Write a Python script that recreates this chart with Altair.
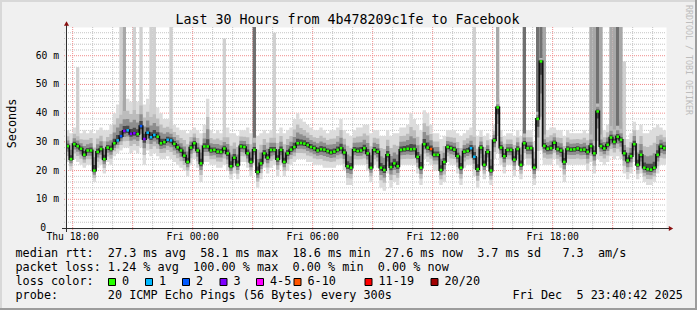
import altair as alt
import pandas as pd

# ---------------- data ----------------
START = "2025-12-04 17:40"   # first sample, 10-minute steps, 30 hours

median = [
    28.5, 24.0, 29.2, 28.5, 27.6, 25.5, 27.0, 27.0, 20.0, 26.5,
    27.5, 24.0, 28.0, 27.5, 29.5, 30.5, 32.0, 33.8, 34.0, 32.8,
    33.0, 32.7, 35.5, 31.0, 33.2, 31.6, 32.4, 31.8, 29.5, 29.9,
    30.7, 30.5, 29.3, 28.1, 27.0, 25.2, 23.0, 28.0, 29.5, 27.0,
    22.5, 28.4, 28.4, 27.0, 27.2, 26.6, 26.5, 27.7, 26.0, 21.5,
    24.5, 22.0, 28.4, 28.2, 26.0, 23.0, 27.2, 19.5, 22.5, 26.0,
    24.5, 27.2, 27.2, 24.0, 27.2, 23.0, 26.0, 27.3, 28.2, 29.5,
    29.6, 29.4, 28.9, 28.2, 27.8, 27.0, 27.4, 27.3, 26.8, 26.3,
    26.6, 27.2, 27.8, 26.3, 21.5, 21.0, 27.2, 26.8, 27.0, 27.8,
    26.0, 21.0, 27.2, 26.6, 21.0, 20.2, 25.5, 21.2, 22.5, 21.5,
    27.2, 27.4, 27.6, 27.4, 27.5, 24.8, 21.0, 29.2, 28.0, 27.5,
    25.5, 25.5, 20.2, 23.0, 28.2, 27.8, 27.3, 25.0, 21.0, 26.6,
    26.8, 27.8, 24.8, 20.5, 28.0, 22.0, 26.5, 20.0, 30.5, 42.0,
    28.0, 25.0, 27.2, 27.2, 23.8, 27.5, 22.0, 29.5, 27.8, 27.8,
    21.0, 38.0, 58.0, 28.6, 27.6, 27.8, 29.7, 27.5, 27.0, 23.0,
    27.5, 27.3, 27.4, 27.7, 27.2, 27.3, 26.5, 28.5, 26.0, 40.6,
    28.5, 27.7, 29.0, 31.5, 30.0, 31.8, 30.7, 26.0, 23.5, 25.0,
    29.2, 22.0, 25.5, 21.0, 20.5, 20.3, 21.0, 25.5, 28.4, 27.8,
]

smoke_hi = [
    34, 33, 35, 34, 33, 34, 33, 34, 33, 34,
    35, 34, 34, 36, 40, 43, 44, 45, 45, 44,
    46, 44, 47, 43, 45, 43, 44, 42, 40, 38,
    38, 37, 36, 35, 34, 34, 33, 34, 35, 34,
    33, 36, 45, 34, 33, 34, 33, 34, 35, 33,
    33, 32, 34, 34, 35, 33, 34, 32, 33, 34,
    33, 34, 34, 33, 35, 33, 34, 35, 38, 40,
    38, 37, 36, 35, 34, 34, 35, 34, 33, 34,
    34, 35, 38, 34, 33, 32, 34, 35, 35, 36,
    36, 33, 34, 34, 32, 32, 34, 32, 33, 33,
    35, 35, 36, 40, 38, 36, 34, 41, 40, 36,
    33, 33, 31, 32, 34, 34, 34, 33, 32, 33,
    34, 35, 36, 32, 34, 32, 33, 31, 36, 45,
    34, 32, 33, 33, 32, 34, 32, 35, 34, 34,
    30, 42, 60, 35, 34, 35, 35, 34, 34, 32,
    34, 33, 33, 33, 33, 34, 33, 35, 33, 45,
    35, 34, 36, 38, 37, 38, 37, 34, 31, 33,
    37, 34, 36, 33, 33, 34, 35, 36, 35, 34,
]

smoke_lo = [
    23, 20, 24, 23, 22, 21, 22, 22, 16, 21,
    22, 19, 23, 22, 25, 26, 27, 28, 28, 26,
    27, 26, 28, 22, 27, 25, 26, 25, 24, 24,
    25, 24, 23, 22, 21, 20, 18, 22, 24, 21,
    16, 23, 23, 22, 22, 21, 21, 22, 20, 17,
    19, 17, 23, 23, 21, 18, 22, 14, 17, 21,
    19, 21, 22, 18, 22, 18, 20, 22, 23, 24,
    24, 24, 23, 23, 22, 22, 22, 21, 21, 21,
    21, 22, 22, 20, 15, 15, 22, 22, 22, 22,
    20, 16, 22, 21, 14, 13, 19, 14, 16, 15,
    22, 22, 22, 22, 22, 19, 15, 24, 23, 22,
    20, 20, 15, 16, 23, 22, 22, 19, 15, 21,
    22, 22, 18, 14, 22, 17, 21, 15, 24, 26,
    22, 19, 22, 22, 18, 22, 17, 24, 22, 22,
    15, 20, 27, 22, 22, 22, 24, 22, 21, 16,
    22, 22, 22, 22, 22, 22, 20, 23, 19, 24,
    23, 22, 23, 25, 24, 25, 24, 19, 17, 19,
    23, 17, 19, 16, 15, 15, 16, 19, 22, 22,
]

# samples with packet loss (index, lost pings out of 20)
loss_at = [15, 16, 17, 18, 19, 20, 22, 23, 24, 25, 26, 30, 31, 109, 121, 122]
loss_cnt = [1, 2, 3, 1, 3, 3, 2, 3, 1, 1, 1, 1, 1, 7, 1, 1]

# tall smoke spikes: sample index, top value (ms), density level
spike_at = [3, 16, 17, 20, 22, 25, 26, 31, 47, 56, 62, 122, 129, 137,
            141, 142, 143, 157, 158, 159, 160, 163, 164, 165, 166, 167]
spike_top = [56, 70, 70, 70, 70, 70, 70, 70, 66, 70, 68, 70, 70, 70,
             70, 70, 70, 70, 70, 70, 70, 70, 70, 70, 70, 58]
spike_lvl = [1, 1, 2, 1, 1, 1, 1, 1, 1, 3, 1, 1, 2, 3,
             3, 3, 2, 2, 2, 3, 2, 2, 2, 3, 2, 1]

loss_labels = ["0", "1", "2", "3", "4-5", "6-10", "11-19", "20/20"]
loss_colors = ["#26ff00", "#00b8ff", "#0059ff", "#7e00ff",
               "#ff00ff", "#ff5500", "#ff0000", "#a10000"]

y_ticks = [0, 10, 20, 30, 40, 50, 60]
x_ticks = ["2025-12-04 18:00", "2025-12-05 00:00", "2025-12-05 06:00",
           "2025-12-05 12:00", "2025-12-05 18:00"]

# ---------------- tables ----------------
N = len(median)
times = pd.date_range(START, periods=N + 1, freq="10min")

def loss_cat(n):
    if n <= 3:
        return loss_labels[n]
    if n <= 5:
        return "4-5"
    if n <= 10:
        return "6-10"
    if n <= 19:
        return "11-19"
    return "20/20"

lossmap = dict(zip(loss_at, loss_cnt))
df = pd.DataFrame({
    "t": times[:-1],
    "tm": times[:-1] + pd.Timedelta(minutes=5),
    "med": median,
    "lo": smoke_lo,
    "hi": smoke_hi,
})
df["cat"] = [loss_cat(lossmap.get(i, 0)) for i in range(N)]
last = df.iloc[[-1]].copy()
last["t"] = times[-1]
dfs = pd.concat([df, last], ignore_index=True)

shades = [(1.0, "#dcdcdc"), (0.62, "#bcbcbc"), (0.36, "#8e8e8e"), (0.15, "#4a4a4a")]
for k, (f, _) in enumerate(shades):
    dfs[f"l{k}"] = dfs["med"] - (dfs["med"] - dfs["lo"]) * f
    dfs[f"h{k}"] = dfs["med"] + (dfs["hi"] - dfs["med"]) * f

sp = pd.DataFrame({
    "t": [times[i] for i in spike_at],
    "t2": [times[i + 1] for i in spike_at],
    "base": [median[i] for i in spike_at],
    "top": spike_top,
    "lvl": spike_lvl,
})

hours = pd.date_range("2025-12-04 18:00", "2025-12-05 23:00", freq="h")
vminor = pd.DataFrame({"t": [h for h in hours if h.hour % 3 != 0]})
vmajor = pd.DataFrame({"t": [h for h in hours if h.hour % 3 == 0]})
hminor = pd.DataFrame({"v": [v for v in range(2, 70, 2) if v % 10 != 0]})
hmajor = pd.DataFrame({"v": [v for v in range(10, 70, 10)]})

NB = "\u00a0"
xlab = pd.DataFrame({"t": pd.to_datetime(x_ticks)})
xlab["lab"] = [d.strftime("%a %H:%M").replace(" ", NB) for d in xlab["t"]]
ylab = pd.DataFrame({"v": [v for v in y_ticks if v > 0]})
ylab["lab"] = [f"{v}{NB}m" for v in ylab["v"]]
yzero = pd.DataFrame({"v": [0], "lab": ["0"]})

# ---------------- layout ----------------
OX, OY = 66, 27          # plot origin in the 697x310 picture
W, H = 600, 201
FONT = "DejaVu Sans Mono"

xscale = alt.Scale(domain=[alt.DateTime(year=2025, month=12, date=4, hours=17, minutes=40),
                           alt.DateTime(year=2025, month=12, date=5, hours=23, minutes=40)])
yscale = alt.Scale(domain=[0, 70], nice=False, clamp=True)

XT = lambda f: alt.X(f, type="temporal", scale=xscale, axis=None)
YQ = lambda f: alt.Y(f, type="quantitative", scale=yscale, axis=None)

def X(px):
    return alt.value(px - OX)

def Y(py):
    return alt.value(py - OY)

def text(s, x, y, size=11.8, align="left", angle=0, color="#000", baseline="alphabetic"):
    return alt.Chart(alt.Data(values=[{}])).mark_text(
        text=s.replace(" ", NB), font=FONT, fontSize=size, align=align,
        angle=angle, color=color, baseline=baseline,
    ).encode(x=X(x), y=Y(y))

def box(x0, y0, x1, y1, color, stroke=None):
    kw = {"color": color}
    if stroke:
        kw.update(stroke=stroke, strokeWidth=1)
    return alt.Chart(alt.Data(values=[{}])).mark_rect(**kw).encode(
        x=X(x0), x2=X(x1), y=Y(y0), y2=Y(y1))

MINOR, MAJOR = "#c4c4c4", "#f08c8c"
grid = [
    alt.Chart(vminor).mark_rule(color=MINOR, strokeWidth=1, strokeDash=[1, 1]).encode(
        x=XT("t"), y=alt.value(0), y2=alt.value(H + 2)),
    alt.Chart(hminor).mark_rule(color=MINOR, strokeWidth=1, strokeDash=[1, 1]).encode(
        y=YQ("v"), x=alt.value(-2), x2=alt.value(W)),
    alt.Chart(vmajor).mark_rule(color=MAJOR, strokeWidth=1, strokeDash=[1, 1]).encode(
        x=XT("t"), y=alt.value(0), y2=alt.value(H + 2)),
    alt.Chart(hmajor).mark_rule(color=MAJOR, strokeWidth=1, strokeDash=[1, 1]).encode(
        y=YQ("v"), x=alt.value(-2), x2=alt.value(W)),
]

base = alt.Chart(dfs)

def band(k):
    return base.mark_area(interpolate="step-after", color=shades[k][1], clip=True).encode(
        x=XT("t"), y=YQ(f"l{k}"), y2=f"h{k}:Q")

spike_cols = {1: "#d0d0d0", 2: "#a8a8a8", 3: "#707070"}
spikes = [
    alt.Chart(sp).transform_filter(f"datum.lvl == {lv}").mark_rect(color=c, clip=True).encode(
        x=XT("t"), x2="t2:T", y=YQ("base"), y2="top:Q")
    for lv, c in spike_cols.items()
]

medline = base.mark_line(interpolate="step-after", color="#101010", strokeWidth=1.8, clip=True).encode(
    x=XT("t"), y=YQ("med"))
dots = [
    alt.Chart(df).transform_filter(alt.datum.cat == lab).mark_square(
        size=6.5, opacity=1, color=col, clip=True).encode(x=XT("tm"), y=YQ("med"))
    for lab, col in zip(loss_labels, loss_colors)
]

xlabels = alt.Chart(xlab).mark_text(font=FONT, fontSize=9.7, color="#000", align="center",
                                    baseline="alphabetic").encode(
    x=XT("t"), y=Y(240), text="lab:N")
ylabels = alt.Chart(ylab).mark_text(font=FONT, fontSize=9.7, color="#000", align="right",
                                    baseline="middle").encode(
    y=YQ("v"), x=X(59), text="lab:N")
ylabel0 = alt.Chart(yzero).mark_text(font=FONT, fontSize=9.7, color="#000", align="right",
                                     baseline="middle").encode(
    y=YQ("v"), x=X(46), text="lab:N")

ax_x = alt.Chart(alt.Data(values=[{}])).mark_rule(color="#303030", strokeWidth=1).encode(
    x=X(62), x2=X(669), y=Y(228.5))
ax_y = alt.Chart(alt.Data(values=[{}])).mark_rule(color="#303030", strokeWidth=1).encode(
    x=X(66.5), y=Y(232), y2=Y(24))
arr_x = alt.Chart(alt.Data(values=[{}])).mark_point(shape="triangle-right", filled=True, size=26,
                                                   color="#8a1010", opacity=1).encode(x=X(671), y=Y(228.5))
arr_y = alt.Chart(alt.Data(values=[{}])).mark_point(shape="triangle-up", filled=True, size=26,
                                                   color="#8a1010", opacity=1).encode(x=X(66.5), y=Y(23.5))

layers = [
    box(0, 0, 697, 2, "#d8d8d8"),
    box(0, 0, 2, 310, "#d8d8d8"),
    box(0, 308, 697, 310, "#9c9c9c"),
    box(695, 0, 697, 310, "#9c9c9c"),
    *grid,
    band(0), *spikes, band(1), band(2), band(3),
    medline, *dots,
    ax_x, ax_y, arr_x, arr_y, xlabels, ylabels, ylabel0,
    text("Last 30 Hours from 4b478209c1fe to Facebook", 347.5, 24, size=13.3, align="center"),
    text("Seconds", 12, 123.5, angle=270, align="center", baseline="middle"),
    text("RRDTOOL / TOBI OETIKER", 688, 5, size=8.3, angle=90, color="#bdbdbd", baseline="middle"),
    text("median rtt:  27.3 ms avg  58.1 ms max  18.6 ms min  27.6 ms now  3.7 ms sd   7.3  am/s", 15.5, 257),
    text("packet loss: 1.24 % avg  100.00 % max  0.00 % min  0.00 % now", 15.5, 271),
    text("loss color:", 15.5, 285),
    text("probe:       20 ICMP Echo Pings (56 Bytes) every 300s", 15.5, 299),
    text("Fri Dec  5 23:40:42 2025", 512.5, 299),
]

box_x = [108.5, 145.5, 182.5, 220, 256.5, 294, 365, 431]
for bx, lab, col in zip(box_x, loss_labels, loss_colors):
    layers.append(box(bx, 278.5, bx + 7, 285.5, col, stroke="#000"))
    layers.append(text(lab, bx + 13.5, 285))

chart = alt.layer(*layers).properties(
    width=W, height=H,
    background="#f0f0f0",
    padding={"left": OX, "top": OY, "right": 697 - OX - W, "bottom": 310 - OY - H},
    autosize=alt.AutoSizeParams(type="none"),
).configure_view(fill="white", stroke="transparent")

chart.save("out.html", embed_options={"renderer": "svg", "actions": False})
